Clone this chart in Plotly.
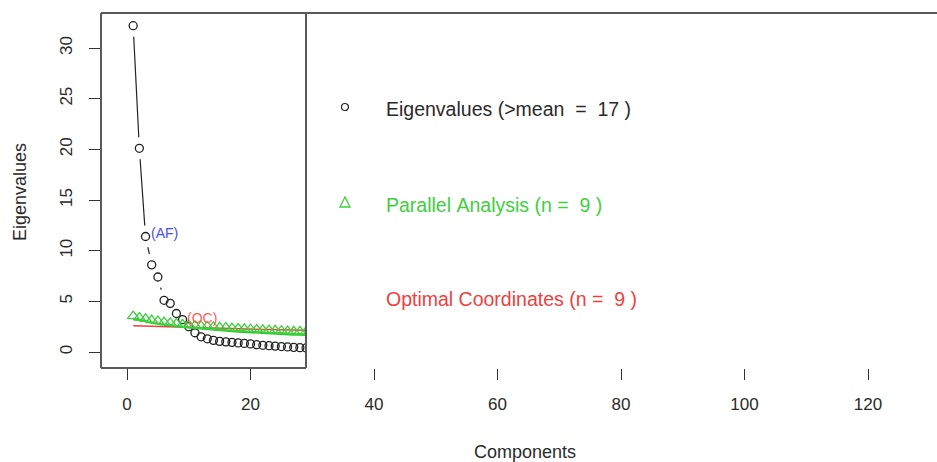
import plotly.graph_objects as go

W, H = 937, 462

# ---- data ----
components = list(range(1, 31))
eigenvalues = [32.2, 20.1, 11.4, 8.6, 7.4, 5.1, 4.8, 3.8, 3.2, 2.5,
               1.9, 1.5, 1.3, 1.15, 1.05, 1.0, 0.95, 0.9, 0.85, 0.8,
               0.72, 0.66, 0.62, 0.58, 0.54, 0.5, 0.46, 0.43, 0.4, 0.38]
parallel_pts = [3.55, 3.4, 3.27, 3.15, 3.05, 2.95, 2.87, 2.8, 2.73, 2.67,
                2.62, 2.57, 2.52, 2.48, 2.44, 2.4, 2.36, 2.32, 2.28, 2.25,
                2.22, 2.19, 2.16, 2.13, 2.1, 2.07, 2.05, 2.03, 2.01, 2.0]
parallel_line = [3.3, 3.15, 3.02, 2.9, 2.8, 2.7, 2.62, 2.55, 2.48, 2.42,
                 2.36, 2.3, 2.25, 2.2, 2.15, 2.1, 2.06, 2.02, 1.98, 1.94,
                 1.9, 1.87, 1.84, 1.81, 1.78, 1.75, 1.73, 1.71, 1.69, 1.67]
optimal = [2.6, 2.58, 2.57, 2.55, 2.53, 2.51, 2.49, 2.47, 2.45, 2.43,
           2.41, 2.39, 2.37, 2.36, 2.34, 2.32, 2.31, 2.29, 2.28, 2.26,
           2.25, 2.23, 2.22, 2.2, 2.19, 2.18, 2.16, 2.15, 2.14, 2.13]
x_ticks = [0, 20, 40, 60, 80, 100, 120]
y_ticks = [0, 5, 10, 15, 20, 25, 30]
af_index, oc_index = 3, 9
legend_labels = ["Eigenvalues (>mean  =  17 )",
                 "Parallel Analysis (n =  9 )",
                 "Optimal Coordinates (n =  9 )"]

# ---- geometry ----
def px(x):
    return x / W

def py(y):
    return 1 - y / H

box_l, box_r, box_t, box_b = 101, 306, 13, 368
x0_px, x_unit = 127, 6.175
y0_px, y_unit = 352, 10.133

def xr(p):
    return (p - x0_px) / x_unit

def yr(p):
    return (y0_px - p) / y_unit

TXT = "#2a2a2a"
GREEN = "#3fcf3f"
RED = "#ef4040"
FONT = "Liberation Sans, Arial, sans-serif"

fig = go.Figure()
fig.add_trace(go.Scatter(x=components, y=eigenvalues, mode="lines",
                         line=dict(color="#222", width=1.2), hoverinfo="skip"))
fig.add_trace(go.Scatter(x=components, y=eigenvalues, mode="markers",
                         marker=dict(symbol="circle", size=22, color="white",
                                     line=dict(width=0)), hoverinfo="skip"))
fig.add_trace(go.Scatter(x=components, y=eigenvalues, mode="markers",
                         marker=dict(symbol="circle-open", size=8, color="#222",
                                     line=dict(width=1.3))))
fig.add_trace(go.Scatter(x=components, y=optimal, mode="lines",
                         line=dict(color=RED, width=1.5)))
fig.add_trace(go.Scatter(x=components, y=parallel_line, mode="lines",
                         line=dict(color="#22cc22", width=2.4)))
fig.add_trace(go.Scatter(x=components, y=parallel_pts, mode="markers",
                         marker=dict(symbol="triangle-up-open", size=10, color=GREEN,
                                     line=dict(width=1.3))))

fig.add_annotation(x=af_index, y=eigenvalues[af_index - 1], text="(AF)",
                   xref="x", yref="y", xanchor="left", yanchor="middle",
                   xshift=3, yshift=3, showarrow=False,
                   font=dict(family=FONT, size=14, color="#4a4aff"))
fig.add_annotation(x=oc_index, y=eigenvalues[oc_index - 1], text="(OC)",
                   xref="x", yref="y", xanchor="left", yanchor="middle",
                   xshift=2, yshift=2, showarrow=False,
                   font=dict(family=FONT, size=14, color="#ff5a5a"))

# full-width tick axis (separate, not overlaying, so it keeps its own domain)
fig.add_trace(go.Scatter(x=[0], y=[None], xaxis="x2", yaxis="y",
                         showlegend=False, hoverinfo="skip"))

fig.update_layout(
    width=W, height=H, margin=dict(l=0, r=0, t=0, b=0),
    paper_bgcolor="white", plot_bgcolor="rgba(0,0,0,0)", showlegend=False,
    xaxis=dict(domain=[px(box_l), px(box_r)], range=[xr(box_l), xr(box_r)],
               showgrid=False, zeroline=False, showticklabels=False, ticks="",
               showline=False),
    xaxis2=dict(domain=[px(box_l), 1], range=[xr(box_l), xr(W)], anchor="y",
                side="bottom", tickangle=0,
                tickvals=x_ticks, ticks="outside", ticklen=11, tickwidth=1.2,
                tickcolor="#333", showgrid=False, zeroline=False, showline=False,
                ticklabelstandoff=10,
                tickfont=dict(family=FONT, size=17, color=TXT)),
    yaxis=dict(domain=[py(box_b), py(box_t)], range=[yr(box_b), yr(box_t)],
               tickvals=y_ticks, ticks="outside", ticklen=11, tickwidth=1.2,
               tickcolor="#333", tickangle=-90, showgrid=False, zeroline=False,
               showline=False, ticklabelstandoff=10,
               tickfont=dict(family=FONT, size=17, color=TXT)),
)

LC = "#5a5a5a"
for (a, b, c, d) in [(box_l, box_t, W, box_t), (box_l, box_t, box_l, box_b),
                     (box_l, box_b, box_r, box_b), (box_r, box_t, box_r, box_b)]:
    fig.add_shape(type="line", xref="paper", yref="paper",
                  x0=px(a), y0=py(b), x1=px(c), y1=py(d),
                  line=dict(color=LC, width=2))

# legend keys
fig.add_shape(type="circle", xref="paper", yref="paper",
              x0=px(341.5), x1=px(348.5), y0=py(103.5), y1=py(110.5),
              line=dict(color="#222", width=1.2))
fig.add_shape(type="path", xref="paper", yref="paper",
              path=f"M {px(340)} {py(207)} L {px(350)} {py(207)} L {px(345)} {py(197)} Z",
              line=dict(color=GREEN, width=1.3))

leg_colors = [TXT, GREEN, RED]
leg_y = [109, 205, 299]
for lab, col, yy in zip(legend_labels, leg_colors, leg_y):
    fig.add_annotation(x=px(384), y=py(yy), xref="paper", yref="paper",
                       text=lab.replace(" ", "\u00a0"), showarrow=False,
                       xanchor="left", yanchor="middle",
                       font=dict(family=FONT, size=19.5, color=col))

fig.add_annotation(x=px(525), y=py(452), xref="paper", yref="paper",
                   text="Components", showarrow=False, xanchor="center",
                   yanchor="middle", font=dict(family=FONT, size=18, color=TXT))
fig.add_annotation(x=px(20), y=py(192), xref="paper", yref="paper",
                   text="Eigenvalues", showarrow=False, textangle=-90,
                   xanchor="center", yanchor="middle",
                   font=dict(family=FONT, size=18, color=TXT))

fig.write_html("out.html",
               config={"displayModeBar": False},
               post_script="document.body.style.margin='0';"
                           "document.body.style.overflow='hidden';")
